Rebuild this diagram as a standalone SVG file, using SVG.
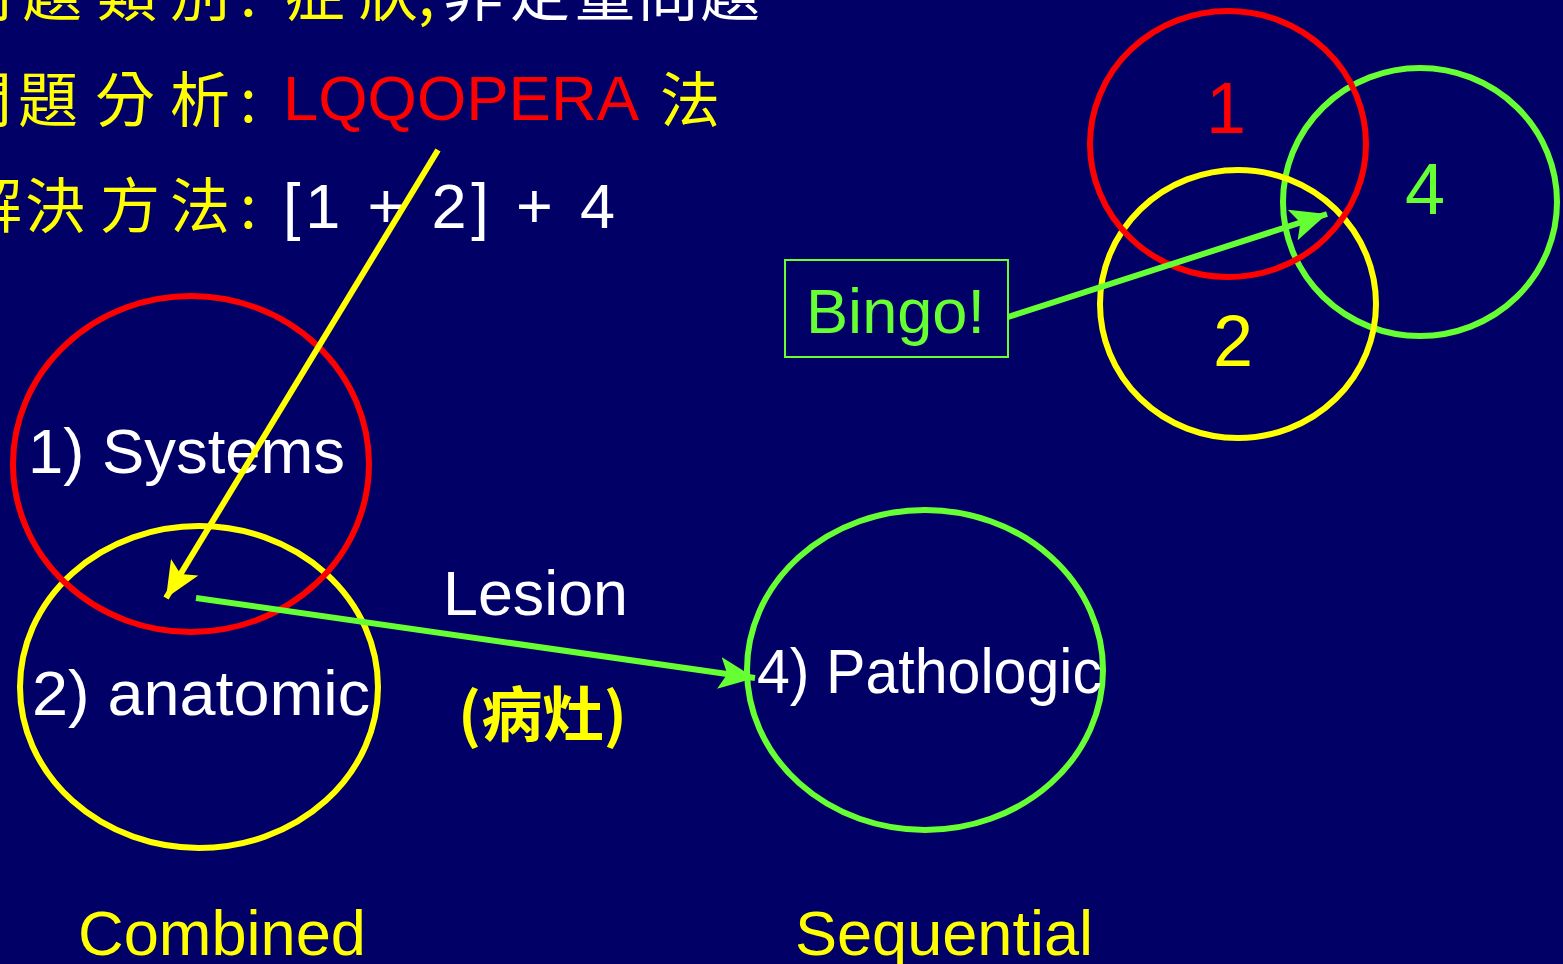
<svg xmlns="http://www.w3.org/2000/svg" width="1563" height="964" viewBox="0 0 1563 964">
<style>
.bg{fill:#000066}
.lat{font-family:"Liberation Sans",Arial,sans-serif;font-size:63px}
.cjk{font-family:"Noto Sans CJK TC","Noto Sans CJK SC",sans-serif;font-size:60px}
.y{fill:#ffff00}.w{fill:#ffffff}.r{fill:#ff0000}.g{fill:#66ff33}
.c{fill:none;stroke-width:6}
.sy{stroke:#ffff00}.sr{stroke:#ff0000}.sg{stroke:#66ff33}
.num{font-size:72px}
</style>
<defs>
<marker id="ahY" markerUnits="userSpaceOnUse" markerWidth="40" markerHeight="32" refX="36" refY="16" orient="auto"><path d="M0,0 L36,16 L0,32 L8,16 Z" fill="#ffff00"/></marker>
<marker id="ahG" markerUnits="userSpaceOnUse" markerWidth="40" markerHeight="32" refX="36" refY="16" orient="auto"><path d="M0,0 L36,16 L0,32 L8,16 Z" fill="#66ff33"/></marker>
</defs>
<rect class="bg" x="0" y="0" width="1563" height="964"/>

<g id="header">
<text class="cjk" y="16"><tspan class="y" x="-48">問</tspan><tspan class="y" x="22">題</tspan><tspan class="y" x="97">類</tspan><tspan class="y" x="170">別</tspan><tspan class="y" x="240">:</tspan><tspan class="y" x="285">症</tspan><tspan class="y" x="358">狀</tspan><tspan class="y" x="418">,</tspan><tspan class="w" x="443">非</tspan><tspan class="w" x="510">定</tspan><tspan class="w" x="575">量</tspan><tspan class="w" x="638">問</tspan><tspan class="w" x="700">題</tspan></text>
<text class="cjk" y="122"><tspan class="y" x="-48">問</tspan><tspan class="y" x="18">題</tspan><tspan class="y" x="95">分</tspan><tspan class="y" x="170">析</tspan><tspan class="y" x="240">:</tspan></text>
<text class="lat r" x="283" y="120" font-size="66" textLength="356" lengthAdjust="spacingAndGlyphs">LQQOPERA</text>
<text class="cjk y" x="660" y="122">法</text>
<text class="cjk" y="228"><tspan class="y" x="-38">解</tspan><tspan class="y" x="25">決</tspan><tspan class="y" x="100">方</tspan><tspan class="y" x="170">法</tspan><tspan class="y" x="240">:</tspan></text>
<text class="lat w" x="283" y="228" font-size="70" textLength="332" lengthAdjust="spacing">[1 + 2] + 4</text>
</g>

<g id="node-anatomic">
<ellipse class="c sy" cx="199" cy="687" rx="179" ry="161"/>
<text class="lat w" x="32" y="715" textLength="338" lengthAdjust="spacingAndGlyphs">2) anatomic</text>
</g>
<g id="node-systems">
<ellipse class="c sr" cx="191" cy="464" rx="178" ry="168"/>
<text class="lat w" x="28" y="473" textLength="317" lengthAdjust="spacingAndGlyphs">1) Systems</text>
</g>
<g id="node-pathologic">
<ellipse class="c sg" cx="925" cy="670" rx="178" ry="160"/>
<text class="lat w" x="757" y="693" textLength="345" lengthAdjust="spacingAndGlyphs">4) Pathologic</text>
</g>

<g id="node-4">
<ellipse class="c sg" cx="1420" cy="202" rx="137" ry="134"/>
<text class="lat g num" x="1425" y="214" text-anchor="middle">4</text>
</g>
<g id="node-2">
<ellipse class="c sy" cx="1238" cy="304" rx="138" ry="134"/>
<text class="lat y num" x="1233" y="366" text-anchor="middle">2</text>
</g>
<g id="node-1">
<ellipse class="c sr" cx="1228" cy="144" rx="138" ry="133"/>
<text class="lat r num" x="1226" y="133" text-anchor="middle">1</text>
</g>

<g id="node-bingo">
<rect x="785" y="260" width="223" height="97" fill="none" stroke="#66ff33" stroke-width="2"/>
<text class="lat g" x="806" y="333" textLength="179" lengthAdjust="spacingAndGlyphs">Bingo!</text>
</g>

<g id="labels">
<text class="lat w" x="443" y="615" textLength="185" lengthAdjust="spacingAndGlyphs">Lesion</text>
<text class="cjk y" x="458" y="737" font-weight="bold" font-size="54" textLength="169" lengthAdjust="spacingAndGlyphs">(病灶)</text>
<text class="lat y" x="78" y="955" textLength="288" lengthAdjust="spacingAndGlyphs">Combined</text>
<text class="lat y" x="795" y="955" textLength="298" lengthAdjust="spacingAndGlyphs">Sequential</text>
</g>

<g id="connectors" fill="none" stroke-width="6">
<line x1="438" y1="150" x2="166" y2="598" stroke="#ffff00" marker-end="url(#ahY)"/>
<line x1="196" y1="598" x2="755" y2="678" stroke="#66ff33" marker-end="url(#ahG)"/>
<line x1="1008" y1="317" x2="1327" y2="214" stroke="#66ff33" marker-end="url(#ahG)"/>
</g>
</svg>
